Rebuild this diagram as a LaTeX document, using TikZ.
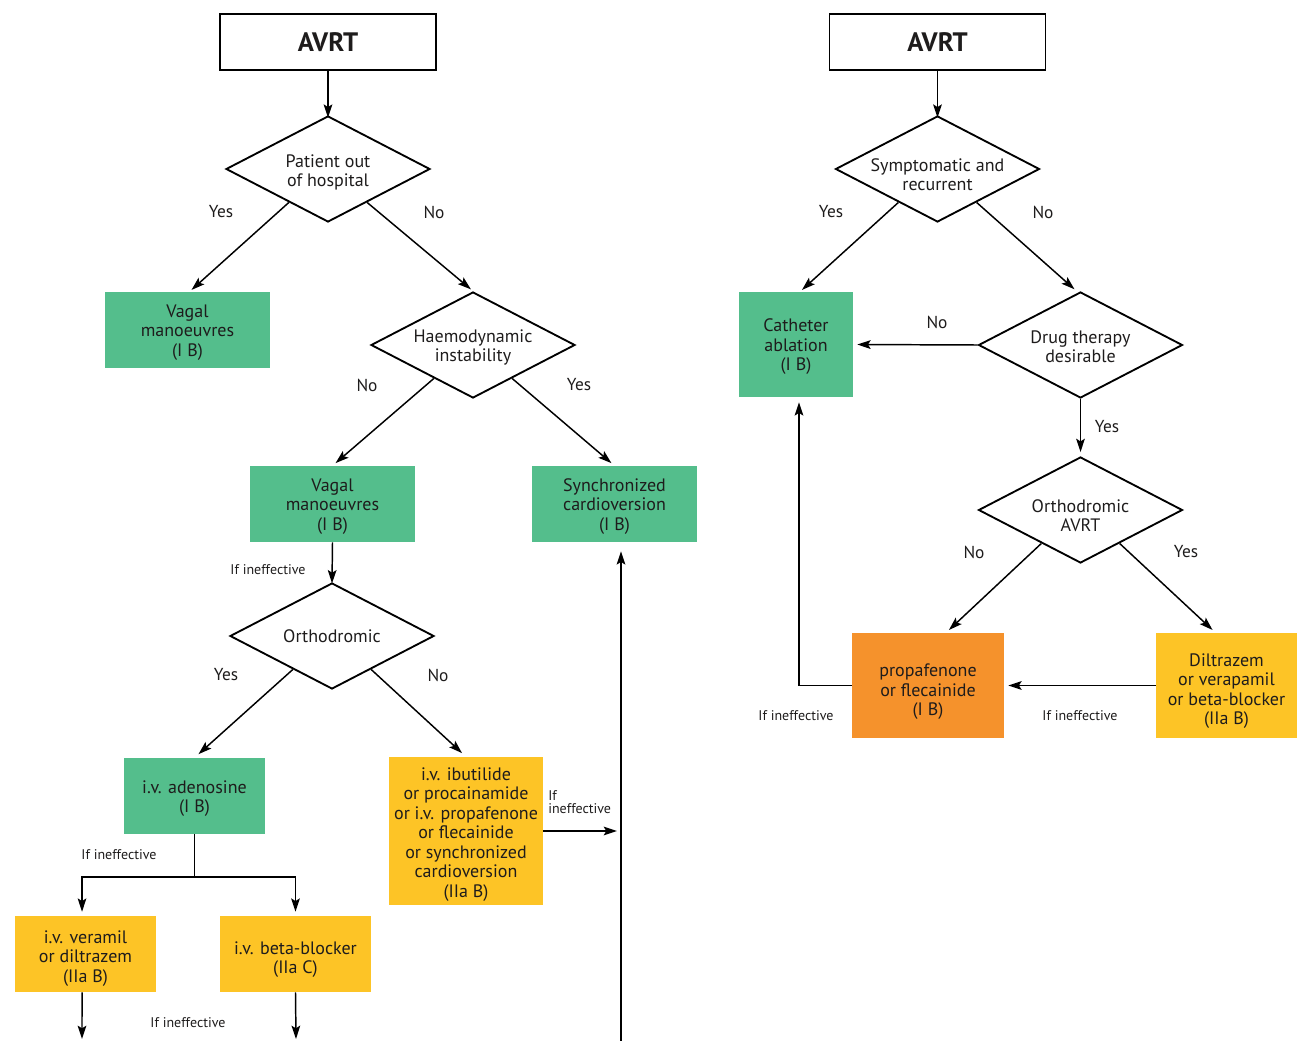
\documentclass[tikz,border=0pt]{standalone}
\usepackage{fontspec}
\setmainfont{PT Sans}
\usetikzlibrary{shapes.geometric,arrows.meta,calc}
\definecolor{gr}{HTML}{54BE8C}
\definecolor{ye}{HTML}{FDC426}
\definecolor{orr}{HTML}{F5922C}
\definecolor{ink}{HTML}{1E1C1C}
\newcommand\upr[1]{\rule{0pt}{#1}}
\tikzset{
  txt/.style={font=\fontsize{13.5}{14.6}\selectfont, align=center, text=ink},
  bx/.style 2 args={rectangle, inner sep=0pt, minimum width=#1*0.75pt, minimum height=#2*0.75pt, txt},
  gbox/.style={fill=gr},
  ybox/.style={fill=ye},
  obox/.style={fill=orr},
  titlebox/.style={rectangle, draw, line width=1.4pt, inner sep=0pt, minimum width=162pt, minimum height=42pt, font=\fontsize{20}{22}\selectfont\bfseries, text=ink},
  dia/.style={diamond, draw, line width=1.4pt, aspect=2, minimum width=153pt, minimum height=79.5pt, inner sep=0pt, txt},
  arr/.style={-{Stealth[length=10pt,width=6.5pt,inset=2pt]}, line width=1.1pt},
  ln/.style={line width=1.1pt},
  lab/.style={font=\fontsize{13}{14}\selectfont, text=ink},
  small/.style={font=\fontsize{10.5}{11}\selectfont, text=ink, align=left}
}
\begin{document}
\begin{tikzpicture}[x=0.75pt,y=-0.75pt]
\useasboundingbox (0,0) rectangle (1297,1041);
% ---------- left ----------
\node[titlebox] (avL) at (328,42) {AVRT};
\node[dia] (d1) at (328,169) {\upr{14.7pt}Patient out\\of hospital};
\node[bx={165}{76}, gbox] (v1) at (187.5,330) {\upr{13.2pt}Vagal\\manoeuvres\\(I B)};
\node[dia] (d2) at (473,345) {\upr{13.2pt}Haemodynamic\\instability};
\node[bx={165}{76}, gbox] (v2) at (332.5,504) {\upr{13.2pt}Vagal\\manoeuvres\\(I B)};
\node[bx={165}{76}, gbox] (sync) at (614.5,504) {\upr{13.2pt}Synchronized\\cardioversion\\(I B)};
\node[dia] (d3) at (332,636) {Orthodromic};
\node[bx={141}{76}, gbox] (aden) at (194.5,796) {\upr{13.2pt}i.v. adenosine\\(I B)};
\node[bx={154}{148}, ybox] (ibut) at (466,831) {\upr{14.7pt}i.v. ibutilide\\or procainamide\\or i.v. propafenone\\or flecainide\\or synchronized\\cardioversion\\(IIa B)};
\node[bx={141}{76}, ybox] (vera) at (85.5,954) {\upr{16.2pt}i.v. veramil\\or diltrazem\\(IIa B)};
\node[bx={151}{76}, ybox] (beta) at (295.5,954) {\upr{17.7pt}i.v. beta-blocker\\(IIa C)};

\draw[arr] (avL.south) -- ([yshift=-2pt]d1.north);
\draw[arr,shorten >=2pt] ($(d1.west)!0.62!(d1.south)$) -- ([xshift=1.5pt]v1.north);
\draw[arr,shorten >=2pt] ($(d1.east)!0.62!(d1.south)$) -- (d2.north);
\node[lab] (y1) at (221,212) {Yes};
\node[lab] (n1) at (434,212) {No};

\draw[arr,shorten >=3pt] ($(d2.west)!0.62!(d2.south)$) -- (v2.north);
\draw[arr,shorten >=3pt] ($(d2.east)!0.62!(d2.south)$) -- (sync.north);
\node[lab] (n2) at (367,385) {No};
\node[lab] (y2) at (579,385) {Yes};

\draw[arr] (v2.south) -- ([yshift=-1pt]d3.north);
\node[small] (ie1) at (268,570) {If ineffective};

\draw[arr,shorten >=4pt] ($(d3.west)!0.62!(d3.south)$) -- (aden.north);
\draw[arr,shorten >=4pt] ($(d3.east)!0.62!(d3.south)$) -- (ibut.north);
\node[lab] (y3) at (226,675) {Yes};
\node[lab] (n3) at (438,675) {No};

\coordinate (j) at (194.5,877);
\draw[ln] (aden.south) -- (j);
\draw[arr,shorten >=3pt] (j) -| ([xshift=-2.6pt]vera.north);
\draw[arr,shorten >=3pt] (j) -| (beta.north);
\node[small] (ie2) at (119,855) {If ineffective};

\coordinate (veraout) at (82,1039);
\coordinate (betaout) at (296,1039);
\draw[arr] ([xshift=-2.6pt]vera.south) -- (veraout);
\draw[arr] (beta.south) -- (betaout);
\node[small] (ie3) at (188,1023) {If ineffective};

\coordinate (vb) at (621,1041);
\draw[arr,shorten >=3pt] (ibut.east) -- (ibut.east -| vb);
\node[small, anchor=west, inner sep=0pt, font=\fontsize{10.5}{10}\selectfont] (ie4) at (548,802) {If\\ineffective};
\draw[arr] (vb) -- ($(sync.south -| vb)+(0,9)$);

% ---------- right ----------
\node[titlebox] (avR) at (937.5,42) {AVRT};
\node[dia, inner sep=-9pt] (r1) at (937.5,169) {\upr{18.5pt}Symptomatic and\\recurrent};
\node[bx={114}{105}, gbox] (cath) at (796,344.5) {\upr{13.2pt}Catheter\\ablation\\(I B)};
\node[dia] (r2) at (1080.5,345) {\upr{12pt}Drug therapy\\desirable};
\node[dia, inner sep=-4pt] (r3) at (1080.5,510) {\upr{18.5pt}Orthodromic\\AVRT};
\node[bx={152}{105}, obox] (prop) at (928,685.5) {\upr{19.2pt}propafenone\\or flecainide\\(I B)};
\node[bx={141}{105}, ybox] (dil) at (1226.5,685.5) {\upr{17.7pt}Diltrazem\\or verapamil\\or beta-blocker\\(IIa B)};

\draw[arr] (avR.south) -- ([yshift=-2pt]r1.north);
\draw[arr,shorten >=2pt] ($(r1.west)!0.62!(r1.south)$) -- ([xshift=3pt]cath.north);
\draw[arr,shorten >=2pt] ($(r1.east)!0.62!(r1.south)$) -- ([xshift=-3pt]r2.north);
\node[lab] (y4) at (831,212) {Yes};
\node[lab] (n4) at (1043,212) {No};

\draw[arr,shorten >=3pt] (r2.west) -- (cath.east);
\node[lab] (n5) at (937,322) {No};
\draw[arr,shorten >=3pt] (r2.south) -- (r3.north);
\node[lab] (y5) at (1107,427) {Yes};

\draw[arr,shorten >=3pt] ($(r3.west)!0.62!(r3.south)$) -- ($(prop.north)+(18,0)$);
\draw[arr,shorten >=3pt] ($(r3.east)!0.62!(r3.south)$) -- ($(dil.north)+(-11,0)$);
\node[lab] (n6) at (974,552) {No};
\node[lab] (y6) at (1186,552) {Yes};

\draw[arr,shorten >=3pt] (dil.west) -- (prop.east);
\node[small] (ie5) at (1080,716) {If ineffective};
\draw[arr] (prop.west) -| ($(cath.south)+(3,5)$);
\node[small] (ie6) at (796,716) {If ineffective};
\end{tikzpicture}
\end{document}
